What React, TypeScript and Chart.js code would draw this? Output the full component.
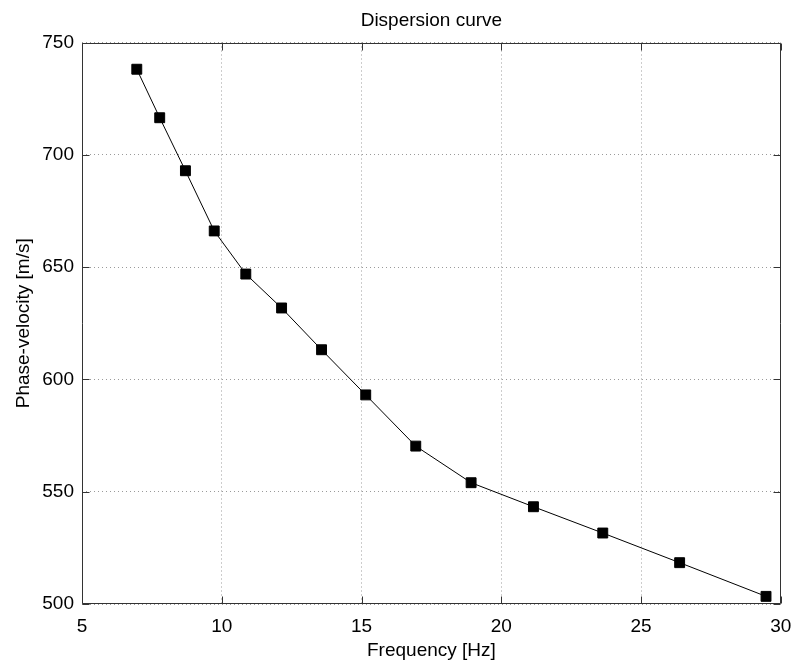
import React, { useEffect, useRef } from "react";
import { Chart, registerables } from "chart.js";

Chart.register(...registerables);

const frequencyHz = [6.96, 7.78, 8.7, 9.73, 10.86, 12.14, 13.57, 15.15, 16.94, 18.92, 21.15, 23.63, 26.38, 29.47];
const phaseVelocity = [738.1, 716.5, 692.9, 666.1, 646.9, 631.8, 613.2, 593.1, 570.3, 554.0, 543.3, 531.6, 518.4, 503.4];
const xTicks = [5, 10, 15, 20, 25, 30];
const yTicks = [500, 550, 600, 650, 700, 750];
const titleText = "Dispersion curve";
const xLabel = "Frequency [Hz]";
const yLabel = "Phase-velocity [m/s]";

const FONT = "'Liberation Sans', Arial, Helvetica, sans-serif";

const framePlugin = {
  id: "frame",
  beforeDatasetsDraw(chart: any) {
    const { ctx, chartArea, scales } = chart;
    const l = Math.round(chartArea.left) + 0.5;
    const r = Math.round(chartArea.right) - 0.5;
    const t = Math.round(chartArea.top) + 0.5;
    const b = Math.round(chartArea.bottom) - 0.5;
    ctx.save();
    ctx.strokeStyle = "#333";
    ctx.lineWidth = 1;
    ctx.setLineDash([]);
    ctx.beginPath();
    ctx.rect(l, t, r - l, b - t);
    const tl = 7;
    xTicks.forEach((v) => {
      const x = Math.round(scales.x.getPixelForValue(v)) + 0.5;
      ctx.moveTo(x, b);
      ctx.lineTo(x, b - tl);
      ctx.moveTo(x, t);
      ctx.lineTo(x, t + tl);
    });
    yTicks.forEach((v) => {
      const y = Math.round(scales.y.getPixelForValue(v)) + 0.5;
      ctx.moveTo(l, y);
      ctx.lineTo(l + tl, y);
      ctx.moveTo(r, y);
      ctx.lineTo(r - tl, y);
    });
    ctx.stroke();
    ctx.restore();
  },
};

export default function App() {
  const ref = useRef<HTMLCanvasElement | null>(null);

  useEffect(() => {
    if (!ref.current) return;
    const chart = new Chart(ref.current, {
      type: "line",
      data: {
        datasets: [
          {
            data: frequencyHz.map((f, i) => ({ x: f, y: phaseVelocity[i] })),
            borderColor: "#000",
            borderWidth: 1,
            backgroundColor: "#000",
            pointStyle: "rect",
            pointRadius: 7,
            pointBorderWidth: 1,
            pointBackgroundColor: "#000",
            pointBorderColor: "#000",
            tension: 0,
            fill: false,
          },
        ],
      },
      options: {
        responsive: false,
        animation: false,
        layout: { padding: { left: 0, right: 11, top: 0, bottom: 0 } },
        plugins: {
          legend: { display: false },
          tooltip: { enabled: false },
          title: {
            display: true,
            text: titleText,
            fullSize: false,
            color: "#000",
            font: { family: FONT, size: 19, weight: "normal", lineHeight: 1.2 },
            padding: { top: 9, bottom: 10.7 },
          },
        },
        scales: {
          x: {
            type: "linear",
            min: 5,
            max: 30,
            afterBuildTicks: (scale: any) => {
              scale.ticks = xTicks.map((v) => ({ value: v }));
            },
            afterFit: (scale: any) => {
              scale.height = 62;
            },
            ticks: {
              color: "#000",
              font: { family: FONT, size: 19 },
              padding: 11.6,
              maxRotation: 0,
            },
            grid: { color: "#9a9a9a", lineWidth: 1, drawTicks: false },
            border: { display: false, dash: [1, 3] },
            title: {
              display: true,
              text: xLabel,
              color: "#000",
              font: { family: FONT, size: 19 },
              padding: { top: 0, bottom: 4.3 },
            },
          },
          y: {
            type: "linear",
            min: 500,
            max: 750,
            afterBuildTicks: (scale: any) => {
              scale.ticks = yTicks.map((v) => ({ value: v }));
            },
            afterFit: (scale: any) => {
              scale.width = 82;
            },
            ticks: {
              color: "#000",
              font: { family: FONT, size: 19 },
              padding: 8,
            },
            grid: { color: "#9a9a9a", lineWidth: 1, drawTicks: false },
            border: { display: false, dash: [1, 3] },
            title: {
              display: true,
              text: yLabel,
              color: "#000",
              font: { family: FONT, size: 19 },
              padding: { top: 12, bottom: 0 },
            },
          },
        },
      } as any,
      plugins: [framePlugin],
    });
    return () => chart.destroy();
  }, []);

  return (
    <div style={{ position: "absolute", left: 0, top: 0, width: 803, height: 666, background: "#fff" }}>
      <canvas ref={ref} width={803} height={666} style={{ width: 803, height: 666, display: "block" }} />
    </div>
  );
}
